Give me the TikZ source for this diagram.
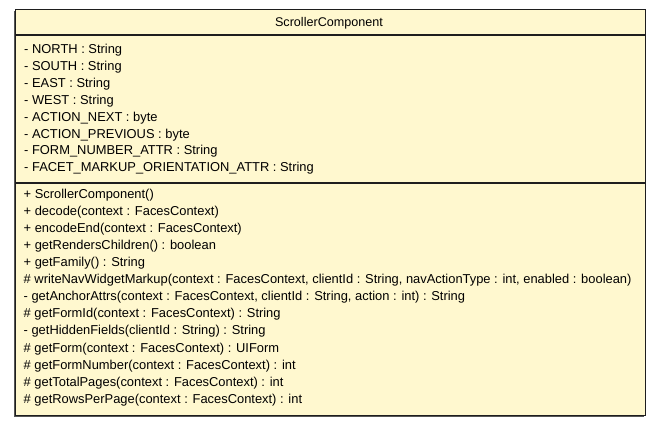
\documentclass[tikz,border=0pt]{standalone}
\usepackage{fontspec}
\setmainfont{Liberation Sans}
\definecolor{classfill}{RGB}{255,248,207}
\definecolor{classedge}{RGB}{30,30,30}
\definecolor{classshade}{RGB}{85,85,85}
\begin{document}
\begin{tikzpicture}[x=1pt,y=-1pt,
  member/.style={anchor=base west,inner sep=0pt,font=\fontsize{12.9}{15}\selectfont},
  title/.style={anchor=base,inner sep=0pt,font=\fontsize{12.6}{15}\selectfont},
  sep/.style={draw=classedge,line width=1.6pt}]
\useasboundingbox (0,0) rectangle (661,427);
% class box with a soft shadow on the left and bottom edges
\fill[classshade] (14,11) rectangle (644,416.5);
\filldraw[fill=classfill,draw=classedge,line width=1pt] (15.5,10) rectangle (645,415);
% compartment separators
\draw[sep] (15.5,35) -- (645,35);
\draw[sep] (15.5,183) -- (645,183);
% class name
\node[title] (name) at (329,26.7) {ScrollerComponent};
% attributes
\foreach \t [count=\i from 0] in {%
  - NORTH : String,
  - SOUTH : String,
  - EAST : String,
  - WEST : String,
  - ACTION\_NEXT : byte,
  - ACTION\_PREVIOUS : byte,
  - FORM\_NUMBER\_ATTR : String,
  - FACET\_MARKUP\_ORIENTATION\_ATTR : String}
  \node[member] (attr\i) at (24,53.3+16.95*\i) {\t};
% operations
\foreach \t [count=\i from 0] in {%
  + ScrollerComponent(),
  + decode(context : FacesContext),
  + encodeEnd(context : FacesContext),
  + getRendersChildren() : boolean,
  + getFamily() : String,
  {\# writeNavWidgetMarkup(context : FacesContext, clientId : String, navActionType : int, enabled : boolean)},
  {- getAnchorAttrs(context : FacesContext, clientId : String, action : int) : String},
  \# getFormId(context : FacesContext) : String,
  - getHiddenFields(clientId : String) : String,
  \# getForm(context : FacesContext) : UIForm,
  \# getFormNumber(context : FacesContext) : int,
  \# getTotalPages(context : FacesContext) : int,
  \# getRowsPerPage(context : FacesContext) : int}
  \node[member] (op\i) at (23.5,198.3+17.08*\i) {\t};
\end{tikzpicture}
\end{document}
